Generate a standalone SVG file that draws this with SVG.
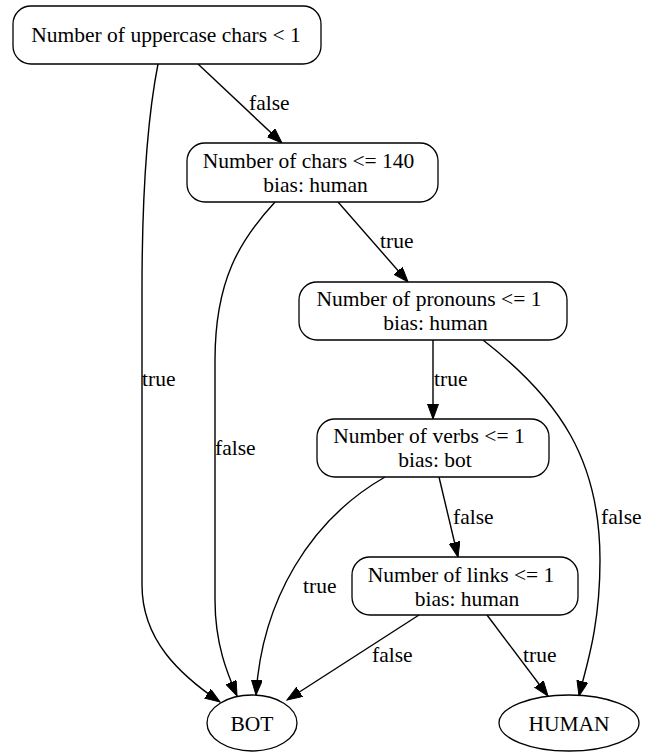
<svg xmlns="http://www.w3.org/2000/svg" width="655" height="753" viewBox="0 0 655 753">
<defs>
<style>
.n{fill:#fff;stroke:#000;stroke-width:1.3}
.t{font-family:"Liberation Serif","Times New Roman",serif;font-size:21.5px;fill:#000}
.m{text-anchor:middle}
.e{fill:none;stroke:#000;stroke-width:1.4;marker-end:url(#ah)}
</style>
<marker id="ah" markerWidth="16" markerHeight="12" refX="15" refY="5.5" orient="auto" markerUnits="userSpaceOnUse"><path d="M0,0 L15,5.5 L0,11 z" fill="#000" stroke="#000" stroke-width="1"/></marker>
</defs>
<rect width="655" height="753" fill="#fff"/>
<g id="edges">
<path class="e" d="M158,64 C148,115 142,180 142,290 L142,585 C142,640 180,675 220,702"/>
<path class="e" d="M198,64 L282,143"/>
<path class="e" d="M275,202 C240,240 215,280 215,360 L215,600 C215,645 228,675 237,696"/>
<path class="e" d="M338,202 L408,282"/>
<path class="e" d="M433,340 L433,419"/>
<path class="e" d="M483,340 C560,400 600,460 600,560 C600,630 585,670 579,696"/>
<path class="e" d="M385,477 C310,520 262,600 256,695"/>
<path class="e" d="M439,477 L458,557"/>
<path class="e" d="M419,615 L287,700"/>
<path class="e" d="M487,615 L548,696"/>
</g>
<g id="edge-labels" class="t">
<text x="249" y="110">false</text>
<text x="142" y="386">true</text>
<text x="380" y="248">true</text>
<text x="215" y="455">false</text>
<text x="434" y="386">true</text>
<text x="601" y="524">false</text>
<text x="453" y="524">false</text>
<text x="303" y="593">true</text>
<text x="372" y="662">false</text>
<text x="523" y="662">true</text>
</g>
<g id="n1">
<rect class="n" x="13" y="6" width="308" height="58" rx="18"/>
<text class="t m" x="166" y="42">Number of uppercase chars &lt; 1</text>
</g>
<g id="n2">
<rect class="n" x="187" y="143" width="251" height="59" rx="18"/>
<text class="t m"><tspan x="308.5" y="168">Number of chars &lt;= 140</tspan><tspan x="315.5" y="192">bias: human</tspan></text>
</g>
<g id="n3">
<rect class="n" x="299" y="282" width="268" height="58" rx="18"/>
<text class="t m"><tspan x="429" y="306">Number of pronouns &lt;= 1</tspan><tspan x="435.5" y="330">bias: human</tspan></text>
</g>
<g id="n4">
<rect class="n" x="317" y="419" width="232" height="58" rx="18"/>
<text class="t m"><tspan x="429" y="443">Number of verbs &lt;= 1</tspan><tspan x="435" y="467">bias: bot</tspan></text>
</g>
<g id="n5">
<rect class="n" x="352" y="557" width="226" height="58" rx="18"/>
<text class="t m"><tspan x="461" y="582">Number of links &lt;= 1</tspan><tspan x="467" y="606">bias: human</tspan></text>
</g>
<g id="bot">
<ellipse class="n" cx="252" cy="723" rx="45" ry="28"/>
<text class="t m" x="252" y="731">BOT</text>
</g>
<g id="human">
<ellipse class="n" cx="569" cy="723" rx="70" ry="28"/>
<text class="t m" x="569" y="731">HUMAN</text>
</g>
</svg>
